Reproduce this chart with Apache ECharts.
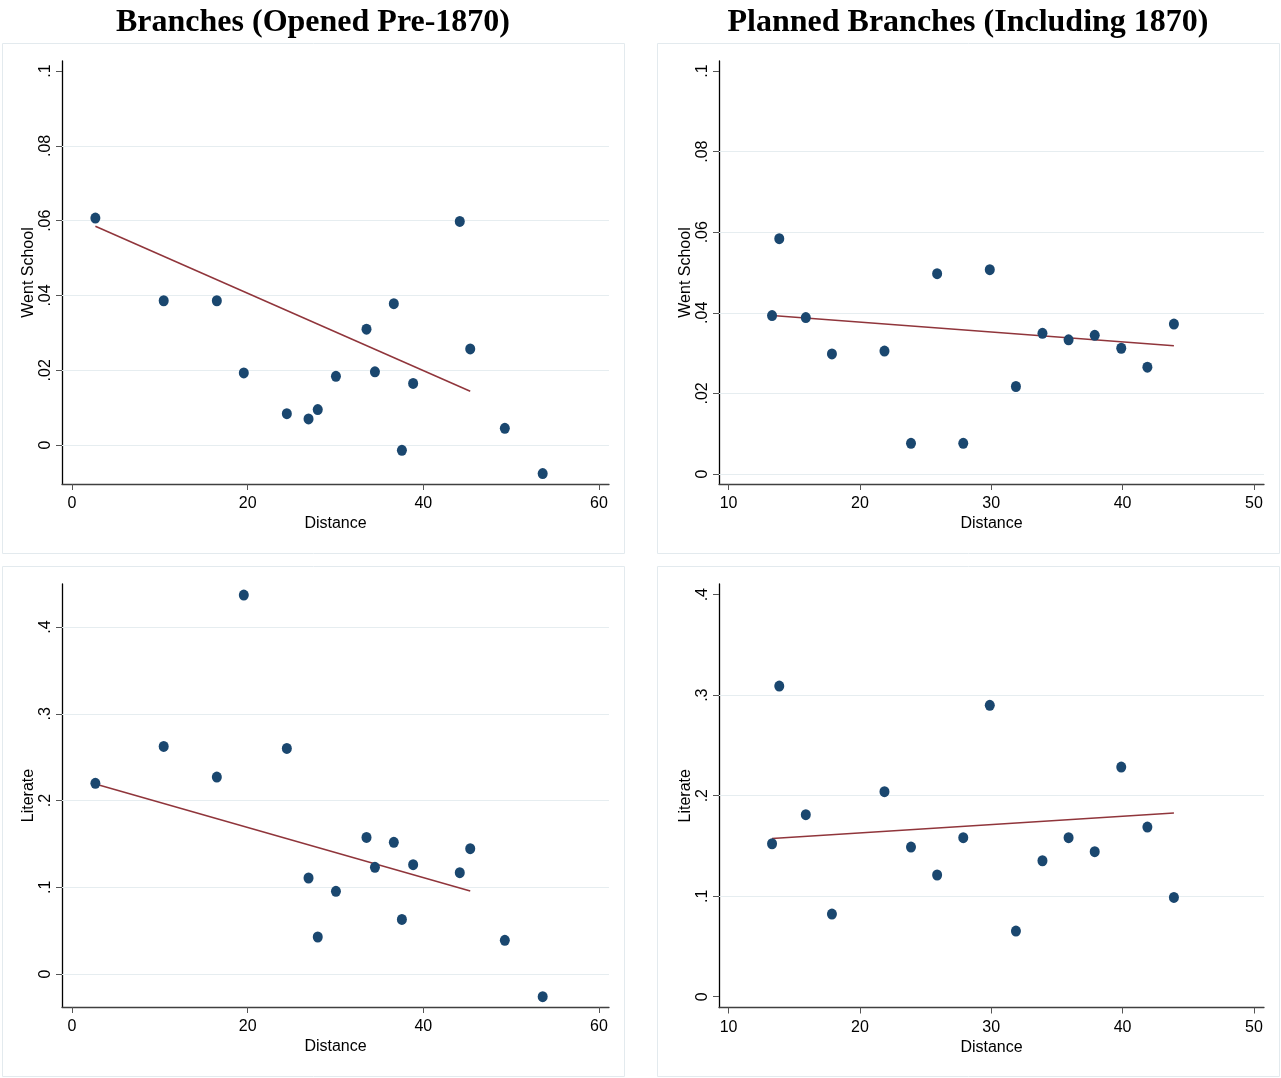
<!DOCTYPE html>
<html><head><meta charset="utf-8">
<script src="https://cdn.jsdelivr.net/npm/echarts@6/dist/echarts.min.js"></script>
<style>html,body{margin:0;padding:0;background:#fff}#c{width:1281px;height:1078px}</style>
</head><body><div id="c"></div>
<script>
// ---- data ----
const panelTitles = ['Branches (Opened Pre-1870)', 'Planned Branches (Including 1870)'];
const distPre = [2.66, 10.44, 16.49, 19.56, 24.46, 26.93, 27.98, 30.05, 33.53, 34.49, 36.64, 37.56, 38.84, 44.15, 45.34, 49.28, 53.59];
const wentPre = [0.0607, 0.0386, 0.0386, 0.0193, 0.0084, 0.0070, 0.0095, 0.0184, 0.0310, 0.0196, 0.0378, -0.0014, 0.0165, 0.0598, 0.0257, 0.0045, -0.0076];
const litPre  = [0.2198, 0.2624, 0.2271, 0.4369, 0.2601, 0.1107, 0.0427, 0.0953, 0.1575, 0.1230, 0.1518, 0.0630, 0.1260, 0.1168, 0.1445, 0.0388, -0.0261];
const distPlan = [13.31, 13.86, 15.88, 17.87, 21.87, 23.89, 25.88, 27.87, 29.89, 31.88, 33.90, 35.89, 37.88, 39.90, 41.89, 43.91];
const wentPlan = [0.0393, 0.0584, 0.0388, 0.0298, 0.0305, 0.0076, 0.0497, 0.0076, 0.0507, 0.0217, 0.0349, 0.0333, 0.0344, 0.0312, 0.0265, 0.0372];
const litPlan  = [0.1522, 0.3091, 0.1811, 0.0823, 0.2040, 0.1489, 0.1211, 0.1582, 0.2899, 0.0653, 0.1353, 0.1582, 0.1443, 0.2285, 0.1688, 0.0988];
// fitted-line endpoints
const fitXPre = [2.66, 45.34];
const fitWentPre = [0.0585, 0.0144];
const fitLitPre = [0.219, 0.0957];
const fitXPlan = [13.31, 43.91];
const fitWentPlan = [0.0393, 0.0318];
const fitLitPlan = [0.1575, 0.1828];
// ticks
const xTicksPre = [0, 20, 40, 60];
const xTicksPlan = [10, 20, 30, 40, 50];
const yTicksWent = [0, 0.02, 0.04, 0.06, 0.08, 0.1];
const yLabelsWent = ['0', '.02', '.04', '.06', '.08', '.1'];
const yTicksLit = [0, 0.1, 0.2, 0.3, 0.4];
const yLabelsLit = ['0', '.1', '.2', '.3', '.4'];
const gridWentPre = [0, 0.02, 0.04, 0.06, 0.08];
const gridWentPlan = [0, 0.02, 0.04, 0.06, 0.08];
const gridLitPre = [0, 0.1, 0.2, 0.3, 0.4];
const gridLitPlan = [0.1, 0.2, 0.3];

const FONT = 'Liberation Sans, Arial, Helvetica, sans-serif';
const NAVY = '#1a476f', MAROON = '#90353b', GRIDC = '#e6edf0';

const panels = [
  {grid:{left:62, top:61, width:547, height:423}, x:[-1.14, 61.14], y:[-0.0104, 0.1027], xt:xTicksPre, yt:yTicksWent, yl:yLabelsWent, yname:'Went School', dx:distPre, dy:wentPre, fx:fitXPre, fy:fitWentPre, gl:gridWentPre},
  {grid:{left:719, top:61, width:545, height:423}, x:[9.27, 50.77], y:[-0.0025, 0.1025], xt:xTicksPlan, yt:yTicksWent, yl:yLabelsWent, yname:'Went School', dx:distPlan, dy:wentPlan, fx:fitXPlan, fy:fitWentPlan, gl:gridWentPlan},
  {grid:{left:62, top:584, width:547, height:423}, x:[-1.14, 61.14], y:[-0.0380, 0.4496], xt:xTicksPre, yt:yTicksLit, yl:yLabelsLit, yname:'Literate', dx:distPre, dy:litPre, fx:fitXPre, fy:fitLitPre, gl:gridLitPre},
  {grid:{left:719, top:584, width:545, height:423.5}, x:[9.27, 50.77], y:[-0.0107, 0.4106], xt:xTicksPlan, yt:yTicksLit, yl:yLabelsLit, yname:'Literate', dx:distPlan, dy:litPlan, fx:fitXPlan, fy:fitLitPlan, gl:gridLitPlan}
];

const option = {
  backgroundColor: '#fff',
  animation: false,
  grid: [], xAxis: [], yAxis: [], series: [],
  graphic: []
};
// panel frames
[[2,43,622,510],[657,43,622,510],[2,566,622,510],[657,566,622,510]].forEach(r => {
  option.graphic.push({type:'rect', shape:{x:r[0]+0.5, y:r[1]+0.5, width:r[2], height:r[3]}, style:{fill:'#fff', stroke:'#e3eaee', lineWidth:1}, z:-10, silent:true});
});
// titles
const TFONT = 'bold 32px "Liberation Serif", "Times New Roman", serif';
option.graphic.push({type:'text', x:313, y:23, style:{text:panelTitles[0], font:TFONT, fill:'#000', align:'center', verticalAlign:'middle'}});
option.graphic.push({type:'text', x:968, y:23, style:{text:panelTitles[1], font:TFONT, fill:'#000', align:'center', verticalAlign:'middle'}});

panels.forEach((p, i) => {
  option.grid.push(Object.assign({containLabel:false, show:false}, p.grid));
  option.xAxis.push({
    type:'value', gridIndex:i, min:p.x[0], max:p.x[1],
    name:'Distance', nameLocation:'middle', nameGap:32,
    nameTextStyle:{fontFamily:FONT, fontSize:16, color:'#000'},
    axisLine:{show:true, onZero:false, lineStyle:{color:'#404040', width:1.3}},
    axisTick:{show:true, customValues:p.xt, length:6, lineStyle:{color:'#555', width:1}},
    axisLabel:{show:true, customValues:p.xt, fontFamily:FONT, fontSize:16, color:'#000', margin:12, formatter: v => String(Math.round(v))},
    splitLine:{show:false}
  });
  option.yAxis.push({
    type:'value', gridIndex:i, min:p.y[0], max:p.y[1],
    name:p.yname, nameLocation:'middle', nameGap:25, nameRotate:90,
    nameTextStyle:{fontFamily:FONT, fontSize:16, color:'#000'},
    axisLine:{show:true, onZero:false, lineStyle:{color:'#000', width:1.3}},
    axisTick:{show:true, customValues:p.yt, length:6, lineStyle:{color:'#555', width:1}},
    axisLabel:{show:true, customValues:p.yt, rotate:90, fontFamily:FONT, fontSize:16, color:'#000', margin:8,
      formatter: v => { let k = p.yt.findIndex(t => Math.abs(t - v) < 1e-9); return k >= 0 ? p.yl[k] : ''; }},
    splitLine:{show:false}
  });
  option.series.push({
    type:'scatter', xAxisIndex:i, yAxisIndex:i,
    data: p.dx.map((x, k) => [x, p.dy[k]]),
    symbol:'circle', symbolSize:[10, 11],
    itemStyle:{color:NAVY, opacity:1},
    z:3,
    markLine:{silent:true, symbol:['none','none'], label:{show:false}, z:1,
      lineStyle:{color:GRIDC, width:1.2, type:'solid'},
      emphasis:{disabled:true},
      data: p.gl.map(v => ({yAxis:v}))}
  });
  option.series.push({
    type:'line', xAxisIndex:i, yAxisIndex:i,
    data: p.fx.map((x, k) => [x, p.fy[k]]),
    showSymbol:false, symbol:'none',
    lineStyle:{color:MAROON, width:1.5},
    z:2
  });
});

const chart = echarts.init(document.getElementById('c'), null, {renderer:'canvas'});
chart.setOption(option);
</script>
</body></html>
